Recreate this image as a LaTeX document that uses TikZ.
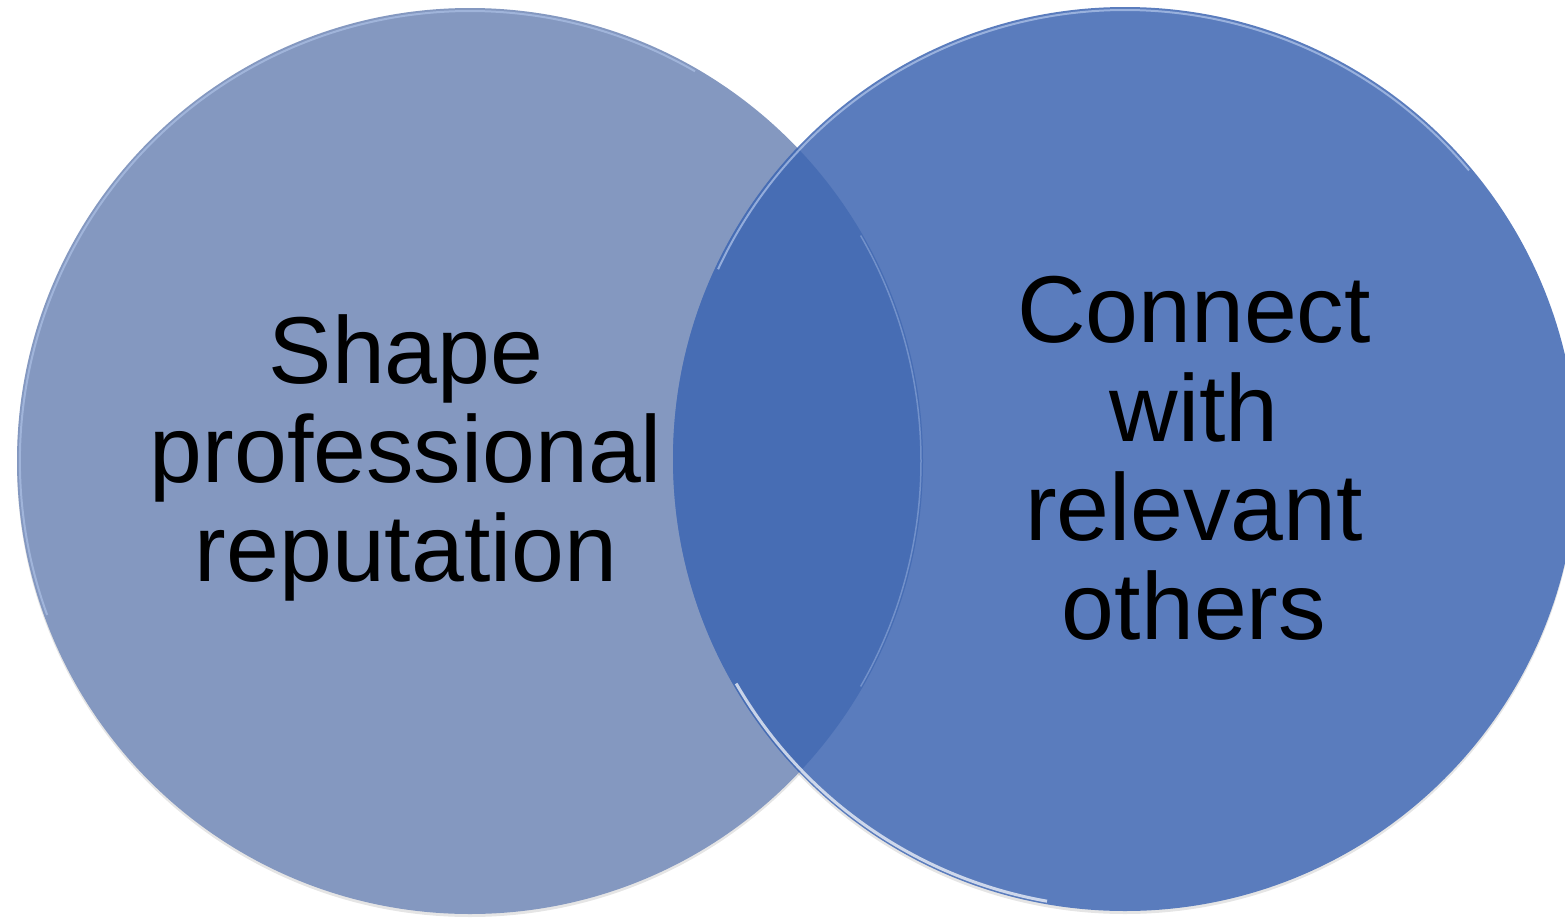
\documentclass[tikz,border=0pt]{standalone}
\usepackage{fontspec}
\setmainfont{Liberation Sans}
\definecolor{leftc}{HTML}{8498C0}
\definecolor{rightc}{HTML}{5A7CBD}
\definecolor{overc}{HTML}{476DB4}
\definecolor{rimc}{HTML}{B4C8EC}
\begin{document}
\begin{tikzpicture}[x=1pt,y=-1pt,
  lbl/.style={align=center,font=\fontsize{95}{99}\selectfont,text=black,inner sep=0pt}]
\useasboundingbox (0,0) rectangle (1565,918);
% soft drop shadows
\fill[black,opacity=0.10] (470,464) circle (453);
\fill[black,opacity=0.10] (1125,462) circle (452);
% circles
\fill[leftc] (470,461) circle (453);
\fill[rightc] (1125,459) circle (452);
\begin{scope}
  \clip (470,461) circle (453);
  \fill[overc] (1125,459) circle (452);
\end{scope}
% glossy rims (coordinate angles: y axis points down)
\draw[rimc,line width=2pt,opacity=0.6] (470,461) ++(160:450) arc[start angle=160,end angle=300,radius=450];
\draw[rimc,line width=2pt,opacity=0.7] (1125,459) ++(205:449) arc[start angle=205,end angle=320,radius=449];
\draw[white,line width=3pt,opacity=0.7] (1125,459) ++(100:449) arc[start angle=100,end angle=150,radius=449];
\draw[rimc,line width=1.5pt,opacity=0.4] (470,461) ++(-30:451) arc[start angle=-30,end angle=30,radius=451];
% texts
\node[lbl] (lt) at (406,458) {Shape\\professional\\reputation};
\node[lbl] (rt) at (1194,458) {Connect\\with\\relevant\\others};
\end{tikzpicture}
\end{document}
